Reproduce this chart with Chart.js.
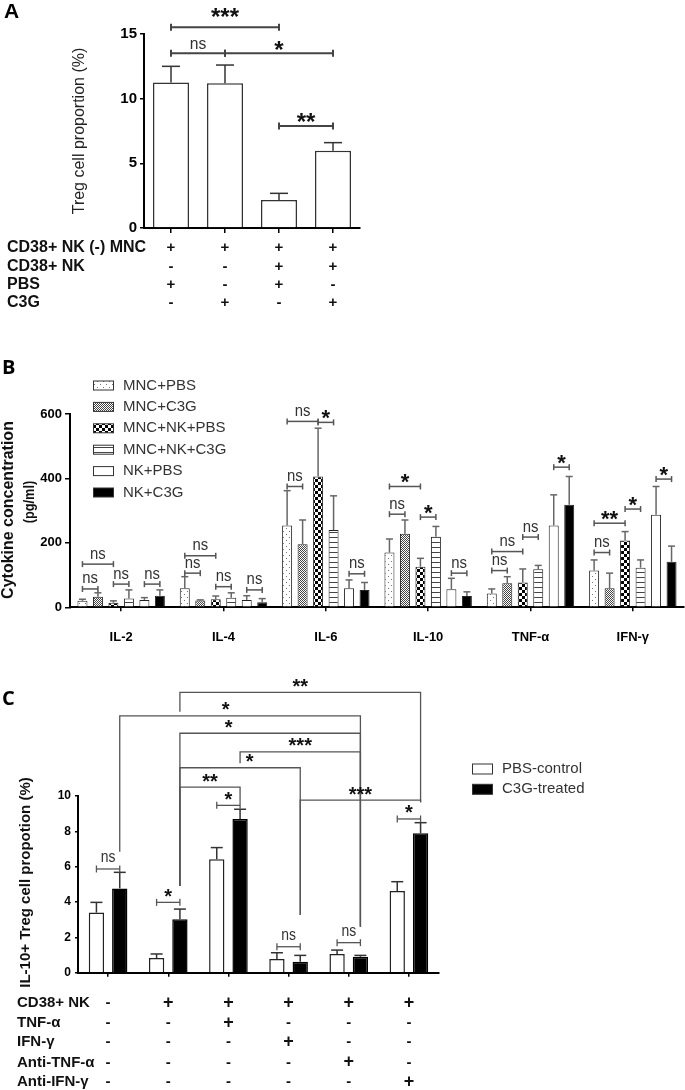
<!DOCTYPE html>
<html>
<head>
<meta charset="utf-8">
<script src="https://cdn.jsdelivr.net/npm/chart.js"></script>
<style>
  body { margin: 0; background: #fff; }
  #page { position: relative; width: 685px; height: 1090px; overflow: hidden; }
  canvas { position: absolute; left: 0; }
</style>
</head>
<body>
<div id="page">
  <canvas id="chartA" width="380" height="320" style="top:0px"></canvas>
  <canvas id="chartB" width="685" height="300" style="top:350px"></canvas>
  <canvas id="chartC" width="685" height="430" style="top:660px"></canvas>
</div>
<script>
// ---- panel A data ----
const aColumns = ["PBS", "C3G", "NK+PBS", "NK+C3G"];
const aValues = [11.25, 11.2, 2.17, 5.98];
const aErrors = [12.5, 12.6, 2.68, 6.6];
const aTicks = [0, 5, 10, 15];
const aRows = ["CD38+ NK (-) MNC", "CD38+ NK", "PBS", "C3G"];
const aSigns = [
  ["+", "+", "+", "+"],
  ["-", "-", "+", "+"],
  ["+", "-", "+", "-"],
  ["-", "+", "-", "+"]
];
// [from bar, to bar, y, text, lift]
const aBrackets = [
  [0, 2, 15.52, "***", 7],
  [0, 1, 13.51, "ns", 0],
  [1, 3, 13.51, "*", 0],
  [2, 3, 7.89, "**", 0]
];

// ---- panel B data ----
const bCytokines = ["IL-2", "IL-4", "IL-6", "IL-10", "TNF-α", "IFN-γ"];
const bGroups = ["MNC+PBS", "MNC+C3G", "MNC+NK+PBS", "MNC+NK+C3G", "NK+PBS", "NK+C3G"];
const bMncPbs = [20, 59, 254, 170, 43, 114];
const bMncPbsErr = [25, 95, 362, 212, 57, 147];
const bMncC3g = [33, 21, 196, 228, 75, 59];
const bMncC3gErr = [45, 23, 271, 271, 95, 106];
const bMncNkPbs = [14, 25, 406, 126, 77, 207];
const bMncNkPbsErr = [20, 35, 556, 152, 119, 235];
const bMncNkC3g = [27, 30, 240, 219, 118, 123];
const bMncNkC3gErr = [54, 45, 346, 251, 130, 147];
const bNkPbs = [23, 23, 59, 56, 254, 287];
const bNkPbsErr = [30, 36, 85, 90, 349, 375];
const bNkC3g = [36, 16, 54, 35, 318, 141];
const bNkC3gErr = [54, 27, 77, 48, 406, 190];
const bTicks = [0, 200, 400, 600];
// [cytokine, from group, to group, y, text]
const bBrackets = [
  [0, 0, 2, 134, "ns"], [0, 0, 1, 57, "ns"], [0, 2, 3, 72, "ns"], [0, 4, 5, 72, "ns"],
  [1, 0, 2, 160, "ns"], [1, 0, 1, 106, "ns"], [1, 2, 3, 64, "ns"], [1, 4, 5, 54, "ns"],
  [2, 0, 2, 577, "ns"], [2, 2, 3, 574, "*"], [2, 0, 1, 375, "ns"], [2, 4, 5, 104, "ns"],
  [3, 0, 2, 375, "*"], [3, 0, 1, 289, "ns"], [3, 2, 3, 280, "*"], [3, 4, 5, 106, "ns"],
  [4, 0, 1, 114, "ns"], [4, 0, 2, 173, "ns"], [4, 2, 3, 218, "ns"], [4, 4, 5, 435, "*"],
  [5, 0, 1, 170, "ns"], [5, 0, 2, 261, "**"], [5, 2, 3, 305, "*"], [5, 4, 5, 398, "*"]
];

// ---- panel C data ----
const cColumns = ["control", "NK", "NK+TNF-α", "NK+IFN-γ", "NK+Anti-TNF-α", "NK+Anti-IFN-γ"];
const cSeries = ["PBS-control", "C3G-treated"];
const cPbs = [3.4, 0.83, 6.42, 0.77, 1.06, 4.62];
const cPbsErr = [3.98, 1.06, 7.08, 1.13, 1.28, 5.15];
const cC3g = [4.77, 3.02, 8.7, 0.62, 0.9, 7.89];
const cC3gErr = [5.68, 3.6, 9.25, 0.98, 0.98, 8.49];
const cTicks = [0, 2, 4, 6, 8, 10];
const cRows = ["CD38+ NK", "TNF-α", "IFN-γ", "Anti-TNF-α", "Anti-IFN-γ"];
const cSigns = [
  ["-", "+", "+", "+", "+", "+"],
  ["-", "-", "+", "-", "-", "-"],
  ["-", "-", "-", "+", "-", "-"],
  ["-", "-", "-", "-", "+", "-"],
  ["-", "-", "-", "-", "-", "+"]
];
// pairs inside one column: [column, y, text]
const cPairs = [[0, 5.87, "ns"], [1, 3.98, "*"], [2, 9.47, "*"], [3, 1.47, "ns"], [4, 1.7, "ns"], [5, 8.7, "*"]];
// between columns (C3G bars): [colA, colB, y, legA end, legB end, text, label at]
const cLinks = [
  [1, 5, 15.87, 14.77, 9.64, "**", 0.5],
  [0, 4, 14.53, 6.85, 2.6, "*", 0.44],
  [1, 4, 13.55, 4.9, 2.6, "*", 0.27],
  [2, 4, 12.5, 11.85, 2.6, "***", 0.5],
  [1, 3, 11.6, 4.9, 3.26, "*", 0.58],
  [1, 2, 10.5, 4.9, 9.68, "**", 0.5],
  [3, 5, 9.77, 3.26, 9.64, "***", 0.5]
];

const FONT = "'Liberation Sans', Arial, sans-serif";
Chart.defaults.font.family = FONT;
Chart.defaults.color = "#000";

// fill patterns for panel B
function makePattern(size, draw) {
  const c = document.createElement("canvas");
  c.width = size; c.height = size;
  const g = c.getContext("2d");
  g.fillStyle = "#fff";
  g.fillRect(0, 0, size, size);
  draw(g);
  return g.createPattern(c, "repeat");
}
const dots = makePattern(6, g => { g.fillStyle = "#777"; g.fillRect(1, 1, 1, 1); g.fillRect(4, 4, 1, 1); });
const fine = makePattern(2, g => { g.fillStyle = "#444"; g.fillRect(0, 0, 1, 1); g.fillRect(1, 1, 1, 1); });
const checker = makePattern(6, g => { g.fillStyle = "#000"; g.fillRect(0, 0, 3, 3); g.fillRect(3, 3, 3, 3); });
const stripes = makePattern(5, g => { g.fillStyle = "#444"; g.fillRect(0, 2, 5, 1); });

// helpers
function line(ctx, x1, y1, x2, y2) {
  ctx.beginPath(); ctx.moveTo(x1, y1); ctx.lineTo(x2, y2); ctx.stroke();
}
function label(ctx, str, x, y, font, color, align, baseline, sx) {
  ctx.save();
  ctx.font = font; ctx.fillStyle = color;
  ctx.textAlign = align; ctx.textBaseline = baseline;
  ctx.translate(x, y); ctx.scale(sx || 1, 1);
  ctx.fillText(str, 0, 0);
  ctx.restore();
}
function vlabel(ctx, str, x, y, font, color, sx) {
  ctx.save();
  ctx.translate(x, y); ctx.rotate(-Math.PI / 2);
  label(ctx, str, 0, 0, font, color, "center", "middle", sx);
  ctx.restore();
}
function errorBars(chart, ds, errs, cap, color, width) {
  const ctx = chart.ctx, y = chart.scales.y;
  const meta = chart.getDatasetMeta(ds);
  ctx.save();
  ctx.strokeStyle = color; ctx.lineWidth = width;
  errs.forEach((e, i) => {
    const bar = meta.data[i];
    const top = y.getPixelForValue(e);
    line(ctx, bar.x, bar.y, bar.x, top);
    line(ctx, bar.x - cap, top, bar.x + cap, top);
  });
  ctx.restore();
}
function sigText(ctx, str, x, yy, st, lift) {
  if (str === "ns") {
    label(ctx, str, x, yy - st.nsGap - lift, st.nsFont, st.text, "center", "alphabetic", st.nsScale);
  } else {
    label(ctx, str, x, yy + st.starBase - lift, st.starFont, "#111", "center", "alphabetic");
  }
}
function bracket(ctx, x1, x2, yy, st, str, lift) {
  ctx.save();
  ctx.strokeStyle = st.color; ctx.lineWidth = st.width;
  line(ctx, x1, yy, x2, yy);
  line(ctx, x1, yy - st.tick, x1, yy + st.tick);
  line(ctx, x2, yy - st.tick, x2, yy + st.tick);
  ctx.restore();
  sigText(ctx, str, (x1 + x2) / 2, yy, st, lift || 0);
}

const styleA = { color: "#444", width: 2, tick: 3.5, nsFont: "17px " + FONT, nsGap: 4.5, nsScale: 0.92,
  starFont: "bold 24px " + FONT, starBase: 4.3, text: "#333" };
const styleB = { color: "#555", width: 1.5, tick: 3, nsFont: "16px " + FONT, nsGap: 5.5, nsScale: 0.93,
  starFont: "bold 22px " + FONT, starBase: 2.6, text: "#333" };
const styleC = { color: "#555", width: 1.3, tick: 3.5, nsFont: "16px " + FONT, nsGap: 6.5, nsScale: 0.87,
  starFont: "bold 20px " + FONT, starBase: 0.5, text: "#333" };

function axisOptions(tickFont, tickLen, pad) {
  return {
    border: { display: true, color: "#000", width: 2 },
    grid: { display: true, drawOnChartArea: false, drawTicks: true, tickLength: tickLen, color: "#000", lineWidth: 1.5, offset: false },
    ticks: { color: "#000", font: tickFont, padding: pad }
  };
}

// ---------------- panel A ----------------
const aRowY = [248, 266.5, 285, 303];
const panelA = {
  id: "panelA",
  afterDraw(chart) {
    const ctx = chart.ctx, y = chart.scales.y;
    const meta = chart.getDatasetMeta(0);
    errorBars(chart, 0, aErrors, 9, "#333", 1.5);
    aBrackets.forEach(b => bracket(ctx, meta.data[b[0]].x, meta.data[b[1]].x, y.getPixelForValue(b[2]), styleA, b[3], b[4]));
    label(ctx, "A", 4, 18, "bold 21px " + FONT, "#000", "left", "alphabetic");
    vlabel(ctx, "Treg cell proportion (%)", 80, 131, "16px " + FONT, "#222");
    aRows.forEach((r, ri) => {
      label(ctx, r, 7, aRowY[ri], "bold 16px " + FONT, "#111", "left", "middle");
      aSigns[ri].forEach((s, ci) => label(ctx, s, meta.data[ci].x, aRowY[ri], "bold 15px " + FONT, "#111", "center", "middle"));
    });
  }
};

const axA = axisOptions({ size: 15, weight: "bold" }, 4, 3);
new Chart(document.getElementById("chartA"), {
  type: "bar",
  data: {
    labels: aColumns,
    datasets: [{ data: aValues, backgroundColor: "#fff", borderColor: "#333", borderWidth: 1.5,
      categoryPercentage: 1, barPercentage: 0.667 }]
  },
  options: {
    responsive: false, animation: false,
    layout: { padding: { top: 34, right: 20, left: 0, bottom: 0 } },
    plugins: { legend: { display: false }, tooltip: { enabled: false } },
    scales: {
      x: { border: axA.border, grid: Object.assign({}, axA.grid, { tickLength: 5 }), ticks: { display: false },
        afterFit: s => { s.height = 92; } },
      y: { min: 0, max: 15, border: axA.border, grid: axA.grid, ticks: axA.ticks,
        afterBuildTicks: s => { s.ticks = aTicks.map(v => ({ value: v })); },
        afterFit: s => { s.width = 144; } }
    }
  },
  plugins: [panelA]
});

// ---------------- panel B ----------------
const bLegendY = [35.5, 56.9, 78.3, 99.7, 121.1, 142.5];
const panelB = {
  id: "panelB",
  afterDraw(chart) {
    const ctx = chart.ctx, y = chart.scales.y;
    const errs = [bMncPbsErr, bMncC3gErr, bMncNkPbsErr, bMncNkC3gErr, bNkPbsErr, bNkC3gErr];
    errs.forEach((e, i) => errorBars(chart, i, e, 3.5, "#666", 1.5));
    bBrackets.forEach(b => {
      const x1 = chart.getDatasetMeta(b[1]).data[b[0]].x;
      const x2 = chart.getDatasetMeta(b[2]).data[b[0]].x;
      bracket(ctx, x1, x2, y.getPixelForValue(b[3]), styleB, b[4], 0);
    });
    label(ctx, "B", 2, 24, "bold 20px 'Open Sans', " + FONT, "#000", "left", "alphabetic");
    vlabel(ctx, "Cytokine concentration", 9, 160, "bold 16px " + FONT, "#111");
    vlabel(ctx, "(pg/ml)", 30, 152, "bold 15px " + FONT, "#111", 0.85);
    chart.data.datasets.forEach((ds, i) => {
      const yy = bLegendY[i];
      ctx.save();
      ctx.fillStyle = ds.backgroundColor;
      ctx.fillRect(93, yy - 4.5, 20, 9);
      ctx.strokeStyle = "#333"; ctx.lineWidth = 1;
      ctx.strokeRect(93.5, yy - 4.5, 20, 9);
      ctx.restore();
      label(ctx, ds.label, 123, yy, "15px " + FONT, "#333", "left", "middle");
    });
  }
};

const axB = axisOptions({ size: 13, weight: "bold" }, 5, 3);
const bFills = [dots, fine, checker, stripes, "#fff", "#000"];
const bSeries = [bMncPbs, bMncC3g, bMncNkPbs, bMncNkC3g, bNkPbs, bNkC3g];
new Chart(document.getElementById("chartB"), {
  type: "bar",
  data: {
    labels: bCytokines,
    datasets: bGroups.map((g, i) => ({
      label: g, data: bSeries[i], backgroundColor: bFills[i], borderColor: "#222", borderWidth: 1,
      categoryPercentage: 0.908, barPercentage: 0.645
    }))
  },
  options: {
    responsive: false, animation: false,
    layout: { padding: { top: 64, right: 1, left: 0, bottom: 0 } },
    plugins: { legend: { display: false }, tooltip: { enabled: false } },
    scales: {
      x: { border: axB.border, grid: Object.assign({}, axB.grid, { tickLength: 4 }),
        ticks: { color: "#000", font: { size: 13, weight: "bold" }, padding: 18, maxRotation: 0 },
        afterFit: s => { s.height = 42.7; } },
      y: { min: 0, max: 600, border: axB.border, grid: axB.grid, ticks: axB.ticks,
        afterBuildTicks: s => { s.ticks = bTicks.map(v => ({ value: v })); },
        afterFit: s => { s.width = 70; } }
    }
  },
  plugins: [panelB]
});

// ---------------- panel C ----------------
const cRowY = [343, 363, 382, 402.5, 422];
const panelC = {
  id: "panelC",
  afterDraw(chart) {
    const ctx = chart.ctx, y = chart.scales.y;
    const pbs = chart.getDatasetMeta(0), c3g = chart.getDatasetMeta(1);
    errorBars(chart, 0, cPbsErr, 6, "#333", 1.5);
    errorBars(chart, 1, cC3gErr, 6, "#333", 1.5);
    cPairs.forEach(p => bracket(ctx, pbs.data[p[0]].x, c3g.data[p[0]].x, y.getPixelForValue(p[1]), styleC, p[2], 0));
    cLinks.forEach(l => {
      const xa = c3g.data[l[0]].x, xb = c3g.data[l[1]].x, yy = y.getPixelForValue(l[2]);
      ctx.save();
      ctx.strokeStyle = styleC.color; ctx.lineWidth = styleC.width;
      ctx.beginPath();
      ctx.moveTo(xa, y.getPixelForValue(l[3]));
      ctx.lineTo(xa, yy);
      ctx.lineTo(xb, yy);
      ctx.lineTo(xb, y.getPixelForValue(l[4]));
      ctx.stroke();
      ctx.restore();
      sigText(ctx, l[5], xa + (xb - xa) * l[6], yy, styleC, 0);
    });
    label(ctx, "C", 2, 45, "bold 20px 'Open Sans', " + FONT, "#000", "left", "alphabetic");
    vlabel(ctx, "IL-10+ Treg cell propotion (%)", 26, 222.5, "bold 15px " + FONT, "#111");
    chart.data.datasets.forEach((ds, i) => {
      const yy = 109 + i * 20.3;
      ctx.save();
      ctx.fillStyle = ds.backgroundColor;
      ctx.fillRect(472, yy - 5, 20, 10);
      ctx.strokeStyle = "#333"; ctx.lineWidth = 1;
      ctx.strokeRect(472.5, yy - 5, 20, 10);
      ctx.restore();
      label(ctx, ds.label, 502, yy, "15px " + FONT, "#333", "left", "middle");
    });
    cRows.forEach((r, ri) => {
      label(ctx, r, 17, cRowY[ri], "bold 15px " + FONT, "#111", "left", "middle");
      cSigns[ri].forEach((s, ci) => {
        const x = (pbs.data[ci].x + c3g.data[ci].x) / 2;
        label(ctx, s, x, cRowY[ri], s === "+" ? "bold 18px " + FONT : "bold 15px " + FONT, "#111", "center", "middle");
      });
    });
  }
};

const axC = axisOptions({ size: 12, weight: "bold" }, 3, 4);
new Chart(document.getElementById("chartC"), {
  type: "bar",
  data: {
    labels: cColumns,
    datasets: [
      { label: cSeries[0], data: cPbs, backgroundColor: "#fff", borderColor: "#222", borderWidth: 1.5,
        categoryPercentage: 0.775, barPercentage: 0.657 },
      { label: cSeries[1], data: cC3g, backgroundColor: "#000", borderColor: "#000", borderWidth: 1.5,
        categoryPercentage: 0.775, barPercentage: 0.657 }
    ]
  },
  options: {
    responsive: false, animation: false,
    layout: { padding: { top: 136, right: 246, left: 0, bottom: 0 } },
    plugins: { legend: { display: false }, tooltip: { enabled: false } },
    scales: {
      x: { border: axC.border, grid: Object.assign({}, axC.grid, { tickLength: 4 }), ticks: { display: false },
        afterFit: s => { s.height = 117.3; } },
      y: { min: 0, max: 10, border: axC.border, grid: axC.grid, ticks: axC.ticks,
        afterBuildTicks: s => { s.ticks = cTicks.map(v => ({ value: v })); },
        afterFit: s => { s.width = 78; } }
    }
  },
  plugins: [panelC]
});
</script>
</body>
</html>
